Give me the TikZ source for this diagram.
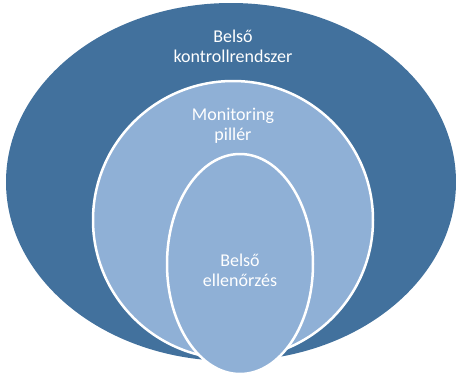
\documentclass[tikz,border=0pt]{standalone}
\usepackage{fontspec}
\setmainfont{Carlito}
\usetikzlibrary{shapes.geometric}
\definecolor{darkblue}{RGB}{66,113,157}
\definecolor{lightblue}{RGB}{143,176,214}
\tikzset{
  ring/.style={ellipse, inner sep=0pt, outer sep=0pt, draw=white, line width=2.5pt},
  lbl/.style={text=white, align=center, font=\fontsize{18}{20}\selectfont, inner sep=0pt}
}
\begin{document}
\begin{tikzpicture}[x=1pt,y=-1pt]
\useasboundingbox (0,0) rectangle (456,378);
\node[ring, fill=darkblue, draw=none, minimum width=450pt, minimum height=358pt] (outer) at (231,182) {};
\node[ring, fill=lightblue, minimum width=280pt, minimum height=278pt] (middle) at (233,220) {};
\node[ring, fill=lightblue, minimum width=146pt, minimum height=220pt] (inner) at (240,264) {};
\node[lbl] (t1) at (233,46) {Belső\\kontrollrendszer};
\node[lbl] (t2) at (233,126) {Monitoring\\pillér};
\node[lbl] (t3) at (240,270) {Belső\\ellenőrzés};
\end{tikzpicture}
\end{document}
